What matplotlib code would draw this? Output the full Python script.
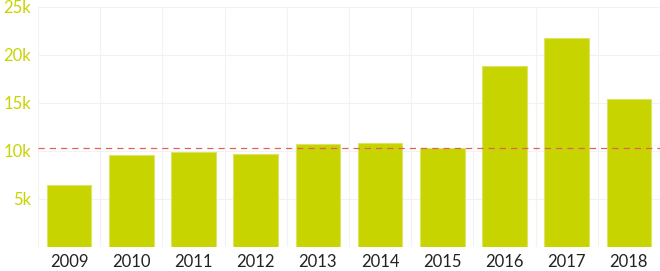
import matplotlib
matplotlib.use("Agg")
import matplotlib.pyplot as plt
import numpy as np

years = ['2009', '2010', '2011', '2012', '2013', '2014', '2015', '2016', '2017', '2018']
values = [6410, 9530, 9880, 9670, 10700, 10780, 10290, 18780, 21730, 15380]
threshold = 10260
yticks = [5000, 10000, 15000, 20000, 25000]
ytick_labels = ['5k', '10k', '15k', '20k', '25k']

bar_color = '#c8d400'
plt.rcParams['font.family'] = ['Lato', 'DejaVu Sans']

fig = plt.figure(figsize=(6.6, 2.71), dpi=100)
ax = fig.add_axes([38 / 660, 24 / 271, 622 / 660, 240.5 / 271])

x = np.arange(len(years))
ax.bar(x, values, width=0.72, color=bar_color, edgecolor='#dbe36a', linewidth=0.8, zorder=2)
ax.axhline(threshold, color='#e06060', linestyle=(0, (5, 4)), linewidth=0.9, zorder=3)

ax.set_xlim(-0.5, len(years) - 0.5)
ax.set_ylim(0, 25000)
ax.set_xticks(x)
ax.set_xticklabels(years, fontsize=12, color='#222222')
ax.set_yticks(yticks)
ax.set_yticklabels(ytick_labels, fontsize=12, color='#c8d400')
ax.set_xticks(np.arange(-0.5, len(years), 1), minor=True)
ax.tick_params(axis='both', which='both', length=0)
ax.tick_params(axis='y', pad=5)
ax.tick_params(axis='x', pad=5)

ax.grid(True, axis='y', color='#f2f2f2', linewidth=0.8, zorder=0)
ax.grid(True, axis='x', which='minor', color='#f2f2f2', linewidth=0.8, zorder=0)
ax.axhline(0, color='#f2f2f2', linewidth=0.8, zorder=0)
for s in ax.spines.values():
    s.set_visible(False)

fig.savefig('out.png', dpi=100)
